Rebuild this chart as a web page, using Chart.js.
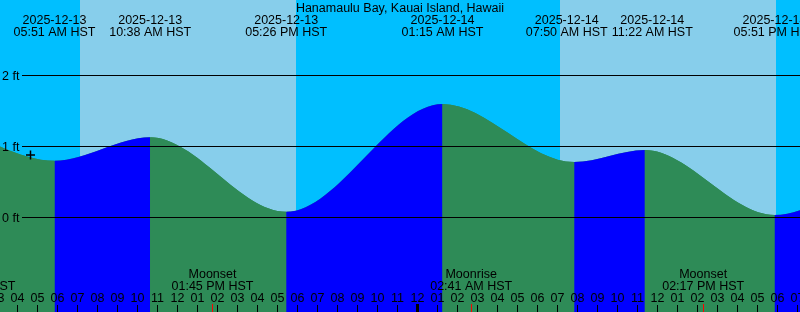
<!DOCTYPE html>
<html>
<head>
<meta charset="utf-8">
<script src="https://cdn.jsdelivr.net/npm/chart.js@4"></script>
<style>
  html, body { margin: 0; padding: 0; background: #00bfff; }
  #wrap { position: relative; width: 800px; height: 312px; }
</style>
</head>
<body>
<div id="wrap"><canvas id="tideChart"></canvas></div>
<script>
const stationName = 'Hanamaulu Bay, Kauai Island, Hawaii';
const zone = 'HST';

// high / low tides (first and last one are off screen, they only shape the edges)
const tideDates = ['2025-12-13', '2025-12-13', '2025-12-13', '2025-12-13', '2025-12-14', '2025-12-14', '2025-12-14', '2025-12-14', '2025-12-15'];
const tideTimes = ['12:30 AM', '05:51 AM', '10:38 AM', '05:26 PM', '01:15 AM', '07:50 AM', '11:22 AM', '05:51 PM', '02:12 AM'];
const tideHeights = [1.32, 0.80, 1.13, 0.08, 1.60, 0.78, 0.95, 0.035, 1.60];

// daylight
const sunriseDates = ['2025-12-13', '2025-12-14'];
const sunriseTimes = ['07:08 AM', '07:08 AM'];
const sunsetDates = ['2025-12-13', '2025-12-14'];
const sunsetTimes = ['05:56 PM', '05:56 PM'];

// moon
const moonEvents = ['Moonrise', 'Moonset', 'Moonrise', 'Moonset'];
const moonDates = ['2025-12-13', '2025-12-13', '2025-12-14', '2025-12-14'];
const moonTimes = ['01:51 AM', '01:45 PM', '02:41 AM', '02:17 PM'];

// current time mark
const nowDate = '2025-12-13';
const nowTime = '04:39 AM';
const nowHeight = 0.88;

const heightTicks = [0, 1, 2];

// axis ranges (hours from 2025-12-13 00:00, feet)
const xMin = 3.125, xMax = 43.125;
const yMin = -1.331, yMax = 3.063;

const nightColor = '#00bfff';
const dayColor = '#87ceeb';
const risingColor = '#0000ff';
const fallingColor = '#2e8b57';
const font = '12.5px "Liberation Sans", Arial, sans-serif';

function toHours(date, time) {
  const day = Number(date.slice(8, 10)) - 13;
  const [hm, ampm] = time.split(' ');
  let [h, m] = hm.split(':').map(Number);
  if (h === 12) h = 0;
  if (ampm === 'PM') h += 12;
  return day * 24 + h + m / 60;
}

const tidePoints = tideTimes.map((t, i) => ({ x: toHours(tideDates[i], t), y: tideHeights[i] }));

const skyPlugin = {
  id: 'sky',
  beforeDraw(chart) {
    const { ctx, chartArea: a, scales: { x } } = chart;
    ctx.save();
    ctx.fillStyle = nightColor;
    ctx.fillRect(a.left, a.top, a.width, a.height);
    ctx.fillStyle = dayColor;
    for (let i = 0; i < sunriseTimes.length; i++) {
      const x0 = Math.round(x.getPixelForValue(toHours(sunriseDates[i], sunriseTimes[i])));
      const x1 = Math.round(x.getPixelForValue(toHours(sunsetDates[i], sunsetTimes[i])));
      ctx.fillRect(x0, a.top, x1 - x0, a.height);
    }
    ctx.restore();
  }
};

const labelsPlugin = {
  id: 'labels',
  afterDatasetsDraw(chart) {
    const { ctx, scales: { x, y } } = chart;
    ctx.save();
    ctx.font = font;
    ctx.fillStyle = '#000';
    ctx.strokeStyle = '#000';
    ctx.lineWidth = 1;

    // height lines + labels
    heightTicks.forEach(v => {
      const py = Math.floor(y.getPixelForValue(v)) + 0.5;
      ctx.beginPath();
      ctx.moveTo(22, py);
      ctx.lineTo(chart.width, py);
      ctx.stroke();
      ctx.textAlign = 'left';
      ctx.fillText(v + ' ft', 2, py + 4.5);
    });

    // title
    ctx.textAlign = 'center';
    ctx.fillText(stationName, chart.width / 2, 12);

    // tide event labels, pushed apart where they would overlap
    const pos = tideTimes.map((t, i) => x.getPixelForValue(toHours(tideDates[i], t)));
    const widths = tideTimes.map(t => ctx.measureText(t + ' ' + zone).width);
    for (let i = 1; i < pos.length; i++) {
      const need = (widths[i - 1] + widths[i]) / 2 + 4;
      const gap = pos[i] - pos[i - 1];
      if (gap < need) {
        pos[i - 1] -= (need - gap) / 2;
        pos[i] += (need - gap) / 2;
      }
    }
    tideTimes.forEach((t, i) => {
      ctx.fillText(tideDates[i], pos[i], 24);
      ctx.fillText(t + ' ' + zone, pos[i], 36);
    });

    // hour labels and ticks
    for (let h = Math.floor(xMin); h <= Math.ceil(xMax); h++) {
      const px = x.getPixelForValue(h);
      const label = String((h % 12) || 12).padStart(2, '0');
      ctx.fillStyle = '#000';
      ctx.fillText(label, px, 302);
      if (h % 24 === 0) {
        ctx.fillRect(Math.floor(px) - 1, 304, 3, 8);
      } else {
        ctx.fillRect(Math.floor(px), 305, 1, 7);
      }
    }

    // moon events
    moonTimes.forEach((t, i) => {
      const px = x.getPixelForValue(toHours(moonDates[i], t));
      ctx.fillStyle = '#000';
      ctx.fillText(moonEvents[i], px, 278);
      ctx.fillText(t + ' ' + zone, px, 290);
      ctx.fillStyle = '#ff0000';
      ctx.fillRect(Math.floor(px), 304, 1, 8);
    });
    ctx.restore();
  }
};

new Chart(document.getElementById('tideChart'), {
  type: 'line',
  data: {
    datasets: [
      {
        label: 'now',
        data: [{ x: toHours(nowDate, nowTime), y: nowHeight }],
        showLine: false,
        pointStyle: 'cross',
        pointRadius: 4.5,
        borderColor: '#000',
        borderWidth: 1.5
      },
      {
        label: 'tide',
        data: tidePoints,
        cubicInterpolationMode: 'monotone',
        fill: 'start',
        borderWidth: 0,
        borderColor: 'transparent',
        pointRadius: 0,
        backgroundColor: fallingColor,
        segment: {
          backgroundColor: ctx => ctx.p1.parsed.y > ctx.p0.parsed.y ? risingColor : fallingColor
        }
      },
      {
        // plain underlay so the joins between rising and falling parts have no seam
        label: 'tide underlay',
        data: tidePoints,
        cubicInterpolationMode: 'monotone',
        fill: 'start',
        borderWidth: 0,
        borderColor: 'transparent',
        pointRadius: 0,
        backgroundColor: fallingColor
      }
    ]
  },
  options: {
    responsive: true,
    maintainAspectRatio: false,
    animation: false,
    events: [],
    layout: { autoPadding: false, padding: 0 },
    scales: {
      x: { type: 'linear', min: xMin, max: xMax, display: false },
      y: { type: 'linear', min: yMin, max: yMax, display: false }
    },
    plugins: {
      legend: { display: false },
      tooltip: { enabled: false }
    }
  },
  plugins: [skyPlugin, labelsPlugin]
});
</script>
</body>
</html>
